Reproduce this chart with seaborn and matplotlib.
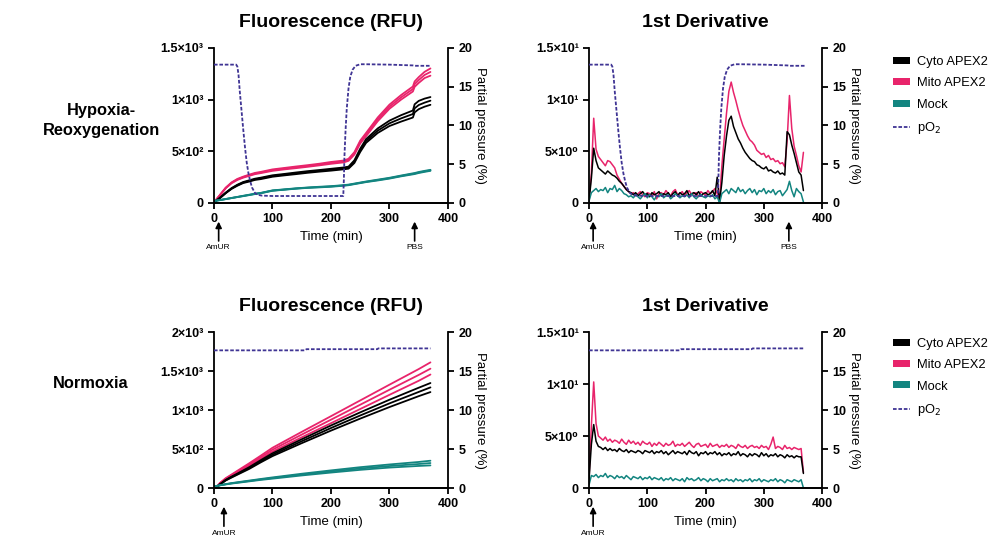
import matplotlib
matplotlib.use("Agg")
import matplotlib.pyplot as plt
import matplotlib.transforms as mtransforms
from matplotlib.patches import Patch
from matplotlib.lines import Line2D
import numpy as np
import seaborn as sns

# ---------------- data ----------------
# hypoxia-reoxygenation, fluorescence (RFU), 3 replicates per group
tf_h = [0, 10, 20, 30, 40, 50, 60, 70, 80, 100, 120, 140, 160, 180, 200,
        222, 230, 240, 250, 260, 280, 300, 320, 340, 343, 350, 360, 370]
mito_h1 = [5, 77, 148, 199, 233, 255, 274, 291, 301, 325, 339, 353, 366, 380, 397,
           411, 428, 492, 604, 678, 828, 952, 1045, 1127, 1176, 1218, 1269, 1302]
mito_h2 = [5, 75, 145, 195, 228, 250, 268, 285, 295, 318, 332, 345, 358, 372, 388,
           402, 418, 480, 590, 662, 810, 932, 1023, 1103, 1150, 1190, 1239, 1268]
mito_h3 = [5, 73, 142, 191, 223, 245, 262, 279, 289, 311, 325, 337, 350, 364, 379,
           393, 408, 468, 576, 646, 792, 912, 1001, 1079, 1124, 1162, 1209, 1232]
cyto_h1 = [5, 50, 100, 144, 177, 203, 219, 235, 245, 268, 281, 295, 308, 319, 331,
           344, 352, 413, 526, 618, 722, 797, 850, 895, 955, 988, 1010, 1025]
cyto_h2 = [5, 48, 97, 140, 172, 198, 213, 229, 238, 261, 274, 287, 300, 311, 322,
           335, 342, 400, 510, 600, 700, 771, 819, 861, 916, 948, 971, 990]
cyto_h3 = [5, 46, 94, 136, 167, 193, 207, 223, 231, 254, 267, 279, 292, 303, 313,
           326, 332, 387, 494, 582, 678, 745, 788, 827, 877, 908, 932, 950]
mock_h1 = [20, 29, 39, 49, 59, 70, 80, 90, 98, 122, 132, 142, 150, 157, 163,
           173, 178, 188, 198, 208, 226, 244, 266, 287, 290, 300, 311, 321]
mock_h2 = [20, 28, 38, 48, 58, 68, 78, 88, 96, 120, 130, 140, 148, 154, 160,
           170, 175, 185, 195, 205, 222, 240, 262, 282, 285, 295, 306, 316]
mock_h3 = [20, 27, 37, 47, 57, 66, 76, 86, 94, 118, 128, 138, 146, 151, 157,
           167, 172, 182, 192, 202, 218, 236, 258, 277, 280, 290, 301, 311]

# pO2 (%), hypoxia-reoxygenation
to_h = [0, 38, 40, 42, 44, 47, 50, 53, 56, 59, 62, 65, 70, 75, 82, 100, 150, 200,
        221, 222, 223, 225, 227, 230, 233, 237, 242, 250, 260, 300, 340, 345, 370]
po2_h = [17.85, 17.85, 17.6, 16.5, 14.5, 12.0, 9.5, 7.2, 5.2, 3.8, 2.8, 2.0, 1.3,
         1.05, 0.95, 0.9, 0.9, 0.9, 0.9, 3.0, 6.0, 9.5, 12.2, 14.8, 16.3, 17.2,
         17.7, 17.9, 17.9, 17.85, 17.75, 17.7, 17.7]

# 1st derivative, sampled every 4 min (0..368)
td = list(range(0, 372, 4))
mito_dh = [0.3, 2.9, 8.2, 5.2, 4.5, 4.2, 3.9, 3.6, 4.1, 4.0,
           3.7, 3.4, 2.7, 2.3, 1.9, 1.6, 1.3, 1.1, 0.9, 1.0,
           0.7, 0.9, 1.1, 0.8, 0.6, 1.0, 0.9, 0.7, 1.1, 0.4,
           0.9, 1.0, 0.8, 1.2, 0.9, 0.7, 1.1, 1.3, 0.8, 0.9,
           1.1, 0.7, 1.0, 1.2, 0.8, 0.9, 1.0, 0.6, 1.1, 0.9,
           0.8, 1.2, 0.9, 1.1, 1.4, 0.9, 0.2, 3.6, 6.2, 8.7,
           10.8, 11.7, 10.7, 9.9, 9.0, 8.2, 7.5, 7.0, 6.5, 6.1,
           5.9, 5.6, 5.1, 4.9, 4.7, 4.8, 4.4, 4.6, 4.2, 4.3,
           4.0, 4.1, 3.8, 3.9, 3.5, 6.0, 10.4, 7.2, 5.5, 4.6,
           3.6, 3.0, 4.9]
cyto_dh = [0.2, 2.4, 5.3, 4.1, 3.4, 3.2, 3.0, 2.8, 3.1, 2.9,
           2.7, 2.6, 2.4, 2.1, 1.9, 1.6, 1.3, 1.1, 1.0, 0.8,
           1.0, 0.7, 0.9, 1.1, 0.8, 0.9, 0.6, 1.0, 0.8, 0.9,
           1.1, 0.7, 0.9, 0.8, 1.0, 0.6, 0.9, 1.1, 0.7, 1.0,
           0.8, 0.9, 1.2, 0.7, 0.9, 1.0, 0.8, 1.1, 0.7, 0.9,
           1.0, 0.8, 0.9, 1.2, 0.7, 2.5, 0.1, 2.0, 4.6, 6.5,
           8.0, 8.4, 7.4, 6.8, 6.2, 5.8, 5.3, 4.9, 4.6, 4.3,
           4.1, 4.0, 3.7, 3.6, 3.4, 3.3, 3.5, 3.1, 3.2, 3.0,
           2.9, 3.1, 2.8, 2.9, 2.7, 6.9, 6.6, 5.6, 4.8, 3.9,
           3.0, 2.7, 1.2]
mock_dh = [0.2, 1.0, 1.2, 1.4, 1.1, 1.3, 1.2, 1.5, 1.0, 1.4,
           1.3, 1.7, 1.1, 1.4, 1.2, 0.9, 0.8, 0.6, 0.7, 0.5,
           0.8, 0.6, 0.4, 0.7, 0.9, 0.5, 0.8, 0.6, 0.3, 0.7,
           0.6, 0.9, 0.5, 0.7, 0.8, 0.4, 0.6, 0.9, 0.7, 0.5,
           0.7, 0.6, 0.8, 0.5, 0.9, 0.6, 0.4, 0.7, 0.8, 0.6,
           0.5, 0.7, 0.6, 0.8, 0.4, 0.6, 0.0, 0.9, 1.1, 1.3,
           0.9, 1.4, 1.2, 1.0, 1.5, 1.1, 1.3, 0.9, 1.2, 1.4,
           1.0, 1.3, 0.8, 1.2, 1.1, 1.4, 0.9, 1.2, 1.0, 1.3,
           0.8, 1.1, 1.2, 0.7, 1.0, 1.3, 2.1, 1.2, 0.6, 1.4,
           1.1, 0.9, 0.1]

# normoxia, fluorescence (RFU)
tf_n = [0, 5, 10, 20, 30, 40, 60, 80, 100, 150, 200, 250, 300, 350, 370]
mito_n1 = [5, 19, 63, 126, 173, 221, 316, 415, 516, 720, 921, 1123, 1325, 1525, 1611]
mito_n2 = [5, 18, 60, 120, 165, 210, 300, 395, 491, 685, 876, 1068, 1260, 1450, 1530]
mito_n3 = [5, 17, 57, 114, 157, 199, 284, 375, 466, 650, 831, 1013, 1195, 1375, 1455]
cyto_n1 = [5, 14, 47, 104, 146, 185, 266, 357, 445, 625, 802, 970, 1132, 1286, 1346]
cyto_n2 = [5, 14, 45, 100, 140, 178, 255, 343, 427, 600, 769, 930, 1085, 1232, 1290]
cyto_n3 = [5, 13, 43, 96, 134, 171, 244, 329, 409, 575, 736, 890, 1038, 1178, 1230]
mock_n1 = [20, 28, 36, 50, 63, 74, 95, 116, 136, 183, 226, 267, 302, 334, 350]
mock_n2 = [20, 27, 35, 48, 60, 70, 90, 110, 128, 172, 212, 250, 282, 308, 320]
mock_n3 = [20, 26, 34, 46, 57, 66, 85, 104, 120, 161, 198, 233, 262, 283, 290]

to_n = [0, 156, 158, 279, 281, 370]
po2_n = [17.65, 17.65, 17.8, 17.8, 17.9, 17.9]

mito_dn = [1.0, 6.0, 10.2, 6.2, 5.0, 4.8, 4.6, 4.9, 4.5, 4.7,
           4.4, 4.6, 4.5, 4.3, 4.7, 4.4, 4.2, 4.6, 4.3, 4.5,
           4.2, 4.4, 4.1, 4.5, 4.3, 4.2, 4.4, 4.0, 4.3, 4.1,
           4.4, 4.2, 4.0, 4.3, 4.1, 4.2, 4.5, 4.0, 4.2, 4.1,
           4.3, 4.0, 4.2, 4.4, 4.1, 3.9, 4.2, 4.3, 4.0, 4.1,
           4.2, 3.9, 4.3, 4.0, 4.1, 4.2, 3.9, 4.1, 4.0, 4.2,
           3.9, 4.1, 4.0, 3.8, 4.2, 4.0, 3.9, 4.1, 3.8, 4.0,
           4.1, 3.9, 4.0, 3.8, 4.1, 3.9, 4.0, 3.7, 4.2, 4.9,
           3.8, 4.0, 3.9, 3.7, 4.1, 3.8, 3.9, 3.7, 3.9, 3.8,
           3.7, 3.8, 1.5]
cyto_dn = [0.8, 4.2, 6.1, 4.5, 4.0, 3.9, 3.7, 3.9, 3.6, 3.8,
           3.6, 3.7, 3.5, 3.8, 3.6, 3.5, 3.7, 3.4, 3.6, 3.5,
           3.4, 3.6, 3.5, 3.3, 3.6, 3.5, 3.4, 3.6, 3.3, 3.5,
           3.4, 3.6, 3.3, 3.5, 3.2, 3.4, 3.6, 3.3, 3.5, 3.4,
           3.3, 3.5, 3.2, 3.6, 3.4, 3.3, 3.5, 3.1, 3.4, 3.3,
           3.5, 3.2, 3.4, 3.3, 3.5, 3.2, 3.4, 3.1, 3.3, 3.2,
           3.4, 3.1, 3.3, 3.2, 3.5, 3.1, 3.3, 3.2, 3.0, 3.3,
           3.1, 3.3, 3.2, 3.0, 3.4, 3.1, 3.3, 3.0, 3.2, 3.1,
           3.3, 3.0, 3.2, 3.1, 2.9, 3.2, 3.0, 3.1, 2.9, 3.1,
           3.0, 3.0, 1.4]
mock_dn = [0.3, 1.2, 1.1, 1.3, 1.0, 1.2, 1.1, 1.4, 1.0, 1.2,
           1.1, 0.9, 1.2, 1.0, 1.1, 0.9, 1.2, 1.0, 0.8, 1.1,
           1.0, 0.9, 1.1, 0.8, 1.0, 0.9, 1.1, 0.8, 1.0, 0.9,
           0.8, 1.0, 0.7, 0.9, 0.8, 1.0, 0.7, 0.9, 0.8, 0.7,
           0.9, 0.6, 1.0, 0.8, 0.9, 0.7, 0.8, 1.0, 0.7, 0.9,
           0.8, 0.6, 0.9, 0.7, 0.8, 0.9, 0.6, 0.8, 0.7, 0.9,
           0.7, 0.8, 0.6, 0.9, 0.7, 0.8, 0.6, 0.8, 0.7, 0.9,
           0.6, 0.8, 0.7, 0.9, 0.6, 0.8, 0.7, 0.6, 0.8, 0.7,
           0.9, 0.6, 0.8, 0.7, 0.5, 0.8, 0.7, 0.6, 0.8, 0.7,
           0.6, 0.8, 0.0]

# axis ticks / labels
xticks = [0, 100, 200, 300, 400]
yt_fl_h = [0, 500, 1000, 1500]
yl_fl_h = ["0", "5×10²", "1×10³", "1.5×10³"]
yt_fl_n = [0, 500, 1000, 1500, 2000]
yl_fl_n = ["0", "5×10²", "1×10³", "1.5×10³", "2×10³"]
yt_der = [0, 5, 10, 15]
yl_der = ["0", "5×10⁰", "1×10¹", "1.5×10¹"]
yt_po2 = [0, 5, 10, 15, 20]

# arrows under the x axis: (time, label)
arrows_fl_h = [(8, "AmUR"), (343, "PBS")]
arrows_der_h = [(7, "AmUR"), (343, "PBS")]
arrows_fl_n = [(17, "AmUR")]
arrows_der_n = [(7, "AmUR")]

C_CYTO = "#000000"
C_MITO = "#E8246B"
C_MOCK = "#138580"
C_PO2 = "#3F3494"

# ---------------- drawing ----------------
sns.set_style("ticks")
plt.rcParams["font.family"] = ["Liberation Sans", "DejaVu Sans"]
plt.rcParams["axes.linewidth"] = 1.3
for k in ("text.color", "axes.labelcolor", "axes.edgecolor",
          "xtick.color", "ytick.color"):
    plt.rcParams[k] = "black"

fig = plt.figure(figsize=(9.92, 5.39), dpi=100)
ax_tl = fig.add_axes([0.2157, 0.6234, 0.2359, 0.2876])
ax_tr = fig.add_axes([0.5938, 0.6234, 0.2349, 0.2876])
ax_bl = fig.add_axes([0.2157, 0.0946, 0.2359, 0.2894])
ax_br = fig.add_axes([0.5938, 0.0946, 0.2349, 0.2894])


def style(ax, title, ylim, yt, yl, t_po2, po2, arrows):
    ax.set_xlim(0, 400)
    ax.set_ylim(*ylim)
    ax.set_xticks(xticks)
    ax.set_xticklabels([str(v) for v in xticks], fontweight="bold", fontsize=9)
    ax.set_yticks(yt)
    ax.set_yticklabels(yl, fontweight="bold", fontsize=9)
    ax.tick_params(direction="out", length=4, width=1.3)
    ax.spines["top"].set_visible(False)
    ax.spines["right"].set_visible(False)
    ax.set_xlabel("Time (min)", fontsize=9.5, labelpad=4)
    ax.set_ylabel("")
    ax.set_title(title, fontsize=14, fontweight="bold", pad=15)

    ax2 = ax.twinx()
    sns.lineplot(x=t_po2, y=po2, ax=ax2, color=C_PO2, linewidth=1.3,
                 linestyle=(0, (2, 1)))
    ax2.set_ylim(0, 20)
    ax2.set_yticks(yt_po2)
    ax2.set_yticklabels([str(v) for v in yt_po2], fontweight="bold", fontsize=9)
    ax2.tick_params(direction="out", length=4, width=1.3)
    ax2.spines["top"].set_visible(False)
    ax2.spines["left"].set_visible(False)
    ax2.set_ylabel("Partial pressure (%)", fontsize=9.5, rotation=270,
                   va="bottom", labelpad=1)

    tr = mtransforms.blended_transform_factory(ax.transData, ax.transAxes)
    for t, lab in arrows:
        ax.annotate("", xy=(t, -0.12), xytext=(t, -0.245), xycoords=tr,
                    textcoords=tr,
                    arrowprops=dict(arrowstyle="-|>", color="black", lw=1.2,
                                    mutation_scale=9, shrinkA=0, shrinkB=0))
        ax.text(t, -0.29, lab, transform=tr, ha="center", va="center",
                fontsize=6)


# top-left: fluorescence, hypoxia
for ys in (mito_h1, mito_h2, mito_h3):
    sns.lineplot(x=tf_h, y=ys, ax=ax_tl, color=C_MITO, linewidth=1.3)
for ys in (cyto_h1, cyto_h2, cyto_h3):
    sns.lineplot(x=tf_h, y=ys, ax=ax_tl, color=C_CYTO, linewidth=1.3)
for ys in (mock_h1, mock_h2, mock_h3):
    sns.lineplot(x=tf_h, y=ys, ax=ax_tl, color=C_MOCK, linewidth=1.3)
style(ax_tl, "Fluorescence (RFU)", (0, 1500), yt_fl_h, yl_fl_h, to_h, po2_h,
      arrows_fl_h)

# top-right: derivative, hypoxia
sns.lineplot(x=td, y=mito_dh, ax=ax_tr, color=C_MITO, linewidth=1.1)
sns.lineplot(x=td, y=cyto_dh, ax=ax_tr, color=C_CYTO, linewidth=1.1)
sns.lineplot(x=td, y=mock_dh, ax=ax_tr, color=C_MOCK, linewidth=1.1)
style(ax_tr, "1st Derivative", (0, 15), yt_der, yl_der, to_h, po2_h,
      arrows_der_h)

# bottom-left: fluorescence, normoxia
for ys in (mito_n1, mito_n2, mito_n3):
    sns.lineplot(x=tf_n, y=ys, ax=ax_bl, color=C_MITO, linewidth=1.3)
for ys in (cyto_n1, cyto_n2, cyto_n3):
    sns.lineplot(x=tf_n, y=ys, ax=ax_bl, color=C_CYTO, linewidth=1.3)
for ys in (mock_n1, mock_n2, mock_n3):
    sns.lineplot(x=tf_n, y=ys, ax=ax_bl, color=C_MOCK, linewidth=1.3)
style(ax_bl, "Fluorescence (RFU)", (0, 2000), yt_fl_n, yl_fl_n, to_n, po2_n,
      arrows_fl_n)

# bottom-right: derivative, normoxia
sns.lineplot(x=td, y=mito_dn, ax=ax_br, color=C_MITO, linewidth=1.1)
sns.lineplot(x=td, y=cyto_dn, ax=ax_br, color=C_CYTO, linewidth=1.1)
sns.lineplot(x=td, y=mock_dn, ax=ax_br, color=C_MOCK, linewidth=1.1)
style(ax_br, "1st Derivative", (0, 15), yt_der, yl_der, to_n, po2_n,
      arrows_der_n)

# row labels
fig.text(0.102, 0.777, "Hypoxia-\nReoxygenation", ha="center", va="center",
         fontsize=11.8, fontweight="bold", linespacing=1.4)
fig.text(0.091, 0.289, "Normoxia", ha="center", va="center",
         fontsize=11.8, fontweight="bold")

# legends
handles = [Patch(facecolor=C_CYTO, edgecolor="none"),
           Patch(facecolor=C_MITO, edgecolor="none"),
           Patch(facecolor=C_MOCK, edgecolor="none"),
           Line2D([0], [0], color=C_PO2, linewidth=1.3, linestyle=(0, (2, 1)))]
labels = ["Cyto APEX2", "Mito APEX2", "Mock", "pO$_2$"]
for ytop in (0.896, 0.373):
    fig.legend(handles, labels, loc="upper left", bbox_to_anchor=(0.900, ytop),
               frameon=False, fontsize=9.3, handlelength=1.3, handleheight=0.45,
               handletextpad=0.6, labelspacing=0.72, borderpad=0,
               borderaxespad=0)

fig.savefig("out.png", dpi=100)
